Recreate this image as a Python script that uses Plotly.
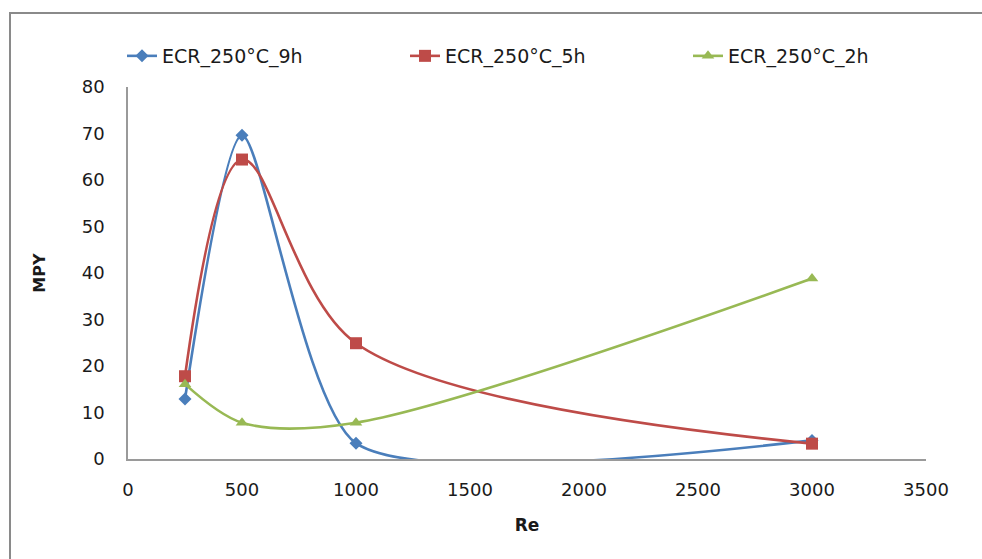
import plotly.graph_objects as go

# Reynolds numbers tested
re_values = [250, 500, 1000, 3000]

# Corrosion rate (MPY) per exposure condition
mpy_9h = [12.9, 69.6, 3.4, 4.0]
mpy_5h = [17.8, 64.4, 24.9, 3.3]
mpy_2h = [16.1, 7.8, 7.8, 38.8]

series_names = ["ECR_250°C_9h", "ECR_250°C_5h", "ECR_250°C_2h"]
series_values = [mpy_9h, mpy_5h, mpy_2h]
series_colors = ["#4A7EBB", "#BE4B48", "#98B954"]
series_symbols = ["diamond", "square", "triangle-up"]
series_sizes = [10, 12, 11]
series_smoothing = [0.65, 0.95, 0.9]

x_ticks = [0, 500, 1000, 1500, 2000, 2500, 3000, 3500]
y_ticks = [0, 10, 20, 30, 40, 50, 60, 70, 80]

FONT = "DejaVu Sans"

fig = go.Figure()
for name, vals, color, sym, size, sm in zip(series_names, series_values, series_colors,
                                             series_symbols, series_sizes, series_smoothing):
    fig.add_trace(go.Scatter(
        x=re_values, y=vals, name=name,
        mode="lines+markers",
        line=dict(color=color, width=2.6, shape="spline", smoothing=sm),
        marker=dict(symbol=sym, size=size, color=color),
        cliponaxis=True,
    ))

W, H = 982, 559
ml, mr, mt, mb = 128, 56, 87, 100
pw, ph = W - ml - mr, H - mt - mb

def px_x(p):
    return (p - ml) / pw

def px_y(p):
    return (H - mb - p) / ph

fig.update_layout(
    width=W, height=H,
    margin=dict(l=ml, r=mr, t=mt, b=mb),
    paper_bgcolor="white",
    plot_bgcolor="white",
    font=dict(family=FONT, size=18, color="#1a1a1a"),
    showlegend=True,
    legend=dict(
        orientation="h",
        x=px_x(122), y=px_y(56), xanchor="left", yanchor="middle",
        font=dict(family=FONT, size=19, color="#1a1a1a"),
        entrywidth=238, entrywidthmode="pixels",
        bgcolor="rgba(0,0,0,0)",
    ),
    xaxis=dict(
        range=[0, 3500], tickvals=x_ticks,
        showgrid=False, zeroline=False,
        showline=True, linecolor="#9a9a9a", linewidth=1.5,
        ticks="", ticklabelstandoff=14,
        tickfont=dict(family=FONT, size=18, color="#1a1a1a"),
        title=dict(text="<b>Re</b>", font=dict(family=FONT, size=17, color="#1a1a1a"),
                   standoff=20),
        fixedrange=True,
    ),
    yaxis=dict(
        range=[0, 80], tickvals=y_ticks,
        showgrid=False, zeroline=False,
        showline=True, linecolor="#9a9a9a", linewidth=1.5,
        ticks="", ticklabelstandoff=18,
        tickfont=dict(family=FONT, size=18, color="#1a1a1a"),
        title=dict(text="<b>MPY</b>", font=dict(family=FONT, size=16, color="#1a1a1a"),
                   standoff=32),
        fixedrange=True,
    ),
    shapes=[
        dict(type="rect", xref="paper", yref="paper",
             x0=px_x(10), x1=px_x(W + 20), y0=px_y(H + 20), y1=px_y(13),
             line=dict(color="#8a8a8a", width=2), fillcolor="rgba(0,0,0,0)",
             layer="below"),
    ],
)

fig.write_html("out.html")
